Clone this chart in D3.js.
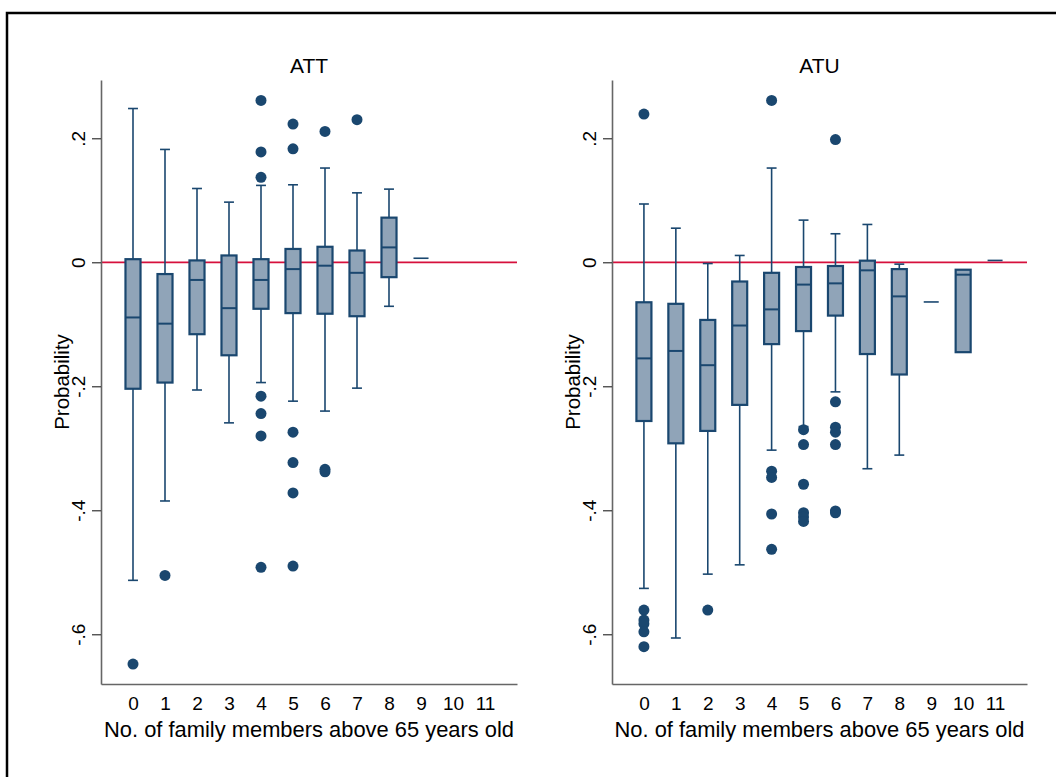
<!DOCTYPE html>
<html>
<head>
<meta charset="utf-8">
<script src="https://cdn.jsdelivr.net/npm/d3@7"></script>
<style>
  html, body { margin: 0; padding: 0; background: #fff; }
  svg { display: block; font-family: "Liberation Sans", Arial, sans-serif; }
</style>
</head>
<body>
<svg id="chart" width="1056" height="777"></svg>
<script>
// ---------- data ----------
const categories = [0, 1, 2, 3, 4, 5, 6, 7, 8, 9, 10, 11];
const yTickValues = [-0.6, -0.4, -0.2, 0, 0.2];
const yTickLabels = ["-.6", "-.4", "-.2", "0", ".2"];
const panelTitles = ["ATT", "ATU"];
const xTitle = "No. of family members above 65 years old";
const yTitle = "Probability";

// ATT
const attWhiskerLow  = [-0.513, -0.385, -0.206, -0.259, -0.194, -0.224, -0.240, -0.203, -0.071, 0.0065, null, null];
const attQ1          = [-0.204, -0.194, -0.116, -0.150, -0.075, -0.082, -0.083, -0.087, -0.024, 0.0065, null, null];
const attMedian      = [-0.089, -0.099, -0.0285, -0.074, -0.0285, -0.011, -0.0055, -0.017, 0.024, 0.0065, null, null];
const attQ3          = [0.005, -0.019, 0.003, 0.011, 0.005, 0.0215, 0.025, 0.019, 0.072, 0.0065, null, null];
const attWhiskerHigh = [0.248, 0.182, 0.119, 0.097, 0.124, 0.125, 0.152, 0.112, 0.118, 0.0065, null, null];
const attOutliers = [
  [-0.648], [-0.505], [], [],
  [0.261, 0.178, 0.137, -0.216, -0.244, -0.280, -0.492],
  [0.223, 0.183, -0.274, -0.323, -0.372, -0.490],
  [0.211, -0.334, -0.338],
  [0.230], [], [], [], []
];

// ATU
const atuWhiskerLow  = [-0.526, -0.606, -0.503, -0.488, -0.303, -0.265, -0.209, -0.333, -0.311, -0.064, -0.145, 0.003];
const atuQ1          = [-0.256, -0.292, -0.272, -0.230, -0.132, -0.111, -0.086, -0.148, -0.181, -0.064, -0.145, 0.003];
const atuMedian      = [-0.155, -0.143, -0.166, -0.102, -0.076, -0.036, -0.034, -0.013, -0.055, -0.064, -0.020, 0.003];
const atuQ3          = [-0.0645, -0.067, -0.093, -0.031, -0.017, -0.0076, -0.006, 0.0026, -0.011, -0.064, -0.012, 0.003];
const atuWhiskerHigh = [0.094, 0.055, -0.002, 0.011, 0.152, 0.068, 0.046, 0.061, -0.003, -0.064, -0.012, 0.003];
const atuOutliers = [
  [0.239, -0.561, -0.577, -0.583, -0.596, -0.620],
  [], [-0.561], [],
  [0.261, -0.337, -0.347, -0.406, -0.463],
  [-0.270, -0.294, -0.358, -0.404, -0.411, -0.418],
  [0.198, -0.225, -0.266, -0.274, -0.294, -0.401, -0.404],
  [], [], [], [], []
];

// ---------- drawing ----------
const svg = d3.select("#chart");
const NAVY = "#1a476f";
const FILL = "#90a4b8";

svg.append("rect").attr("x", 0).attr("y", 0).attr("width", 1056).attr("height", 777).attr("fill", "#fff");
svg.append("rect").attr("x", 7).attr("y", 13).attr("width", 1070).attr("height", 790)
  .attr("fill", "none").attr("stroke", "#000").attr("stroke-width", 2.5);

const panels = [
  { title: panelTitles[0], x0: 101, x1: 517, lo: attWhiskerLow, q1: attQ1, med: attMedian, q3: attQ3, hi: attWhiskerHigh, out: attOutliers },
  { title: panelTitles[1], x0: 612, x1: 1027, lo: atuWhiskerLow, q1: atuQ1, med: atuMedian, q3: atuQ3, hi: atuWhiskerHigh, out: atuOutliers }
];

const yTop = 80, yBottom = 684;
const y = d3.scaleLinear().domain([-0.6802, 0.294]).range([yBottom, yTop]);

panels.forEach(p => {
  const x = d3.scaleLinear().domain([-1, 12]).range([p.x0, p.x1]);
  const boxW = (x(1) - x(0)) * 0.47;
  const capW = boxW * 0.66;
  const g = svg.append("g");

  // title
  g.append("text").attr("x", (p.x0 + p.x1) / 2).attr("y", 73)
    .attr("text-anchor", "middle").attr("font-size", 21).attr("fill", "#000").text(p.title);

  // zero reference line
  g.append("line").attr("x1", p.x0).attr("x2", p.x1).attr("y1", y(0)).attr("y2", y(0))
    .attr("stroke", "#d6103c").attr("stroke-width", 1.8);

  // y axis
  const yAxis = d3.axisLeft(y).tickValues(yTickValues)
    .tickFormat((d, i) => yTickLabels[i]).tickSize(9).tickSizeOuter(0);
  const ya = g.append("g").attr("transform", `translate(${p.x0},0)`).call(yAxis);
  ya.select(".domain").attr("stroke", "#666").attr("stroke-width", 1.6);
  ya.selectAll(".tick line").attr("stroke", "#333").attr("stroke-width", 1.2);
  ya.selectAll(".tick text").attr("x", null).attr("dy", null)
    .attr("transform", "translate(-16,0) rotate(-90)")
    .attr("text-anchor", "middle").attr("font-size", 19).attr("fill", "#000")
    .attr("font-family", "Liberation Sans, Arial, sans-serif");

  // x axis
  const xAxis = d3.axisBottom(x).tickValues(categories).tickFormat(d => String(d))
    .tickSize(0).tickSizeOuter(0).tickPadding(12);
  const xa = g.append("g").attr("transform", `translate(0,${yBottom})`).call(xAxis);
  xa.select(".domain").attr("stroke", "#666").attr("stroke-width", 1.6);
  xa.selectAll(".tick text").attr("font-size", 19).attr("fill", "#000").attr("dy", null)
    .attr("y", 26).attr("font-family", "Liberation Sans, Arial, sans-serif");

  // axis titles
  g.append("text").attr("x", (p.x0 + p.x1) / 2).attr("y", 737)
    .attr("text-anchor", "middle").attr("font-size", 21.9).attr("fill", "#000").text(xTitle);
  g.append("text").attr("transform", `translate(${p.x0 - 32},${(yTop + yBottom) / 2}) rotate(-90)`)
    .attr("text-anchor", "middle").attr("font-size", 20.5).attr("fill", "#000").text(yTitle);

  // boxes
  categories.forEach((c, i) => {
    if (p.med[i] === null) return;
    const cx = x(c);
    const bg = g.append("g");
    // whiskers
    bg.append("line").attr("x1", cx).attr("x2", cx).attr("y1", y(p.q3[i])).attr("y2", y(p.hi[i]))
      .attr("stroke", NAVY).attr("stroke-width", 1.6);
    bg.append("line").attr("x1", cx).attr("x2", cx).attr("y1", y(p.q1[i])).attr("y2", y(p.lo[i]))
      .attr("stroke", NAVY).attr("stroke-width", 1.6);
    if (p.hi[i] !== p.q3[i]) {
      bg.append("line").attr("x1", cx - capW / 2).attr("x2", cx + capW / 2)
        .attr("y1", y(p.hi[i])).attr("y2", y(p.hi[i])).attr("stroke", NAVY).attr("stroke-width", 1.6);
    }
    if (p.lo[i] !== p.q1[i]) {
      bg.append("line").attr("x1", cx - capW / 2).attr("x2", cx + capW / 2)
        .attr("y1", y(p.lo[i])).attr("y2", y(p.lo[i])).attr("stroke", NAVY).attr("stroke-width", 1.6);
    }
    // box
    const h = y(p.q1[i]) - y(p.q3[i]);
    if (h > 0) {
      bg.append("rect").attr("x", cx - boxW / 2).attr("y", y(p.q3[i]))
        .attr("width", boxW).attr("height", h)
        .attr("fill", FILL).attr("stroke", NAVY).attr("stroke-width", 2.2);
    }
    // median
    bg.append("line").attr("x1", cx - boxW / 2).attr("x2", cx + boxW / 2)
      .attr("y1", y(p.med[i])).attr("y2", y(p.med[i]))
      .attr("stroke", NAVY).attr("stroke-width", h > 0 ? 2 : 1.6);
    // outliers
    bg.selectAll("circle.o").data(p.out[i]).enter().append("circle")
      .attr("cx", cx).attr("cy", d => y(d)).attr("r", 5.5).attr("fill", NAVY);
  });
});
</script>
</body>
</html>
